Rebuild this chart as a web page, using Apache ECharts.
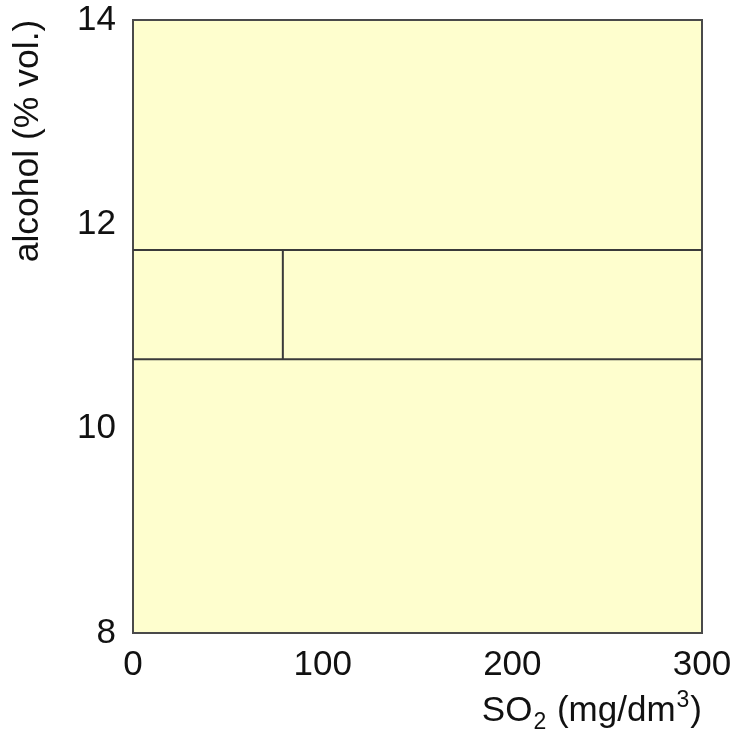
<!DOCTYPE html>
<html>
<head>
<meta charset="utf-8">
<script src="https://cdn.jsdelivr.net/npm/echarts@6/dist/echarts.min.js"></script>
<style>
  html, body { margin: 0; padding: 0; background: #ffffff; }
  #chart { width: 736px; height: 732px; }
</style>
</head>
<body>
<div id="chart"></div>
<script>
// Axis ranges and tick labels
const so2Ticks = [0, 100, 200, 300];
const alcoholTicks = [8, 10, 12, 14];

// Tree partition boundaries
const alcoholSplitHigh = 11.75;   // upper horizontal split (% vol.)
const alcoholSplitLow = 10.68;    // lower horizontal split (% vol.)
const so2Split = 79;              // vertical split between the two horizontal ones (mg/dm3)

const FONT = '"Liberation Sans", Arial, Helvetica, sans-serif';
const LINE = '#3a3a3a';

const chart = echarts.init(document.getElementById('chart'), null, { renderer: 'canvas' });

const segments = [
  [[so2Ticks[0], alcoholSplitHigh], [so2Ticks[so2Ticks.length - 1], alcoholSplitHigh]],
  [[so2Ticks[0], alcoholSplitLow], [so2Ticks[so2Ticks.length - 1], alcoholSplitLow]],
  [[so2Split, alcoholSplitLow], [so2Split, alcoholSplitHigh]]
];

chart.setOption({
  animation: false,
  backgroundColor: '#ffffff',
  grid: {
    left: 133, right: 34, top: 20, bottom: 99,
    show: true,
    backgroundColor: '#fefece',
    borderColor: '#4a4a4a',
    borderWidth: 2
  },
  xAxis: {
    type: 'value',
    min: so2Ticks[0], max: so2Ticks[so2Ticks.length - 1], interval: 100,
    axisLine: { show: false },
    axisTick: { show: false },
    splitLine: { show: false },
    axisLabel: { color: '#111', fontFamily: FONT, fontSize: 35, margin: 15 }
  },
  yAxis: {
    type: 'value',
    min: alcoholTicks[0], max: alcoholTicks[alcoholTicks.length - 1], interval: 2,
    axisLine: { show: false },
    axisTick: { show: false },
    splitLine: { show: false },
    axisLabel: { color: '#111', fontFamily: FONT, fontSize: 35, margin: 17 }
  },
  series: segments.map(seg => ({
    type: 'line',
    data: seg,
    symbol: 'none',
    lineStyle: { color: LINE, width: 2 },
    silent: true
  })),
  graphic: [
    {
      type: 'text',
      x: 28, y: 141,
      rotation: Math.PI / 2,
      style: {
        text: 'alcohol (% vol.)',
        font: '35.5px ' + FONT,
        fill: '#111',
        align: 'center',
        verticalAlign: 'middle'
      }
    },
    {
      type: 'text',
      x: 702, y: 711,
      style: {
        text: '{n|SO}{sub|2}{n| (mg/dm}{sup|3}{n|)}',
        align: 'right',
        verticalAlign: 'middle',
        fill: '#111',
        rich: {
          n: { fontFamily: FONT, fontSize: 35, fill: '#111', color: '#111' },
          sub: { fontFamily: FONT, fontSize: 23, fill: '#111', color: '#111', padding: [24, 1, 0, 1] },
          sup: { fontFamily: FONT, fontSize: 23, fill: '#111', color: '#111', padding: [0, 1, 20, 1] }
        }
      }
    }
  ]
});
</script>
</body>
</html>
